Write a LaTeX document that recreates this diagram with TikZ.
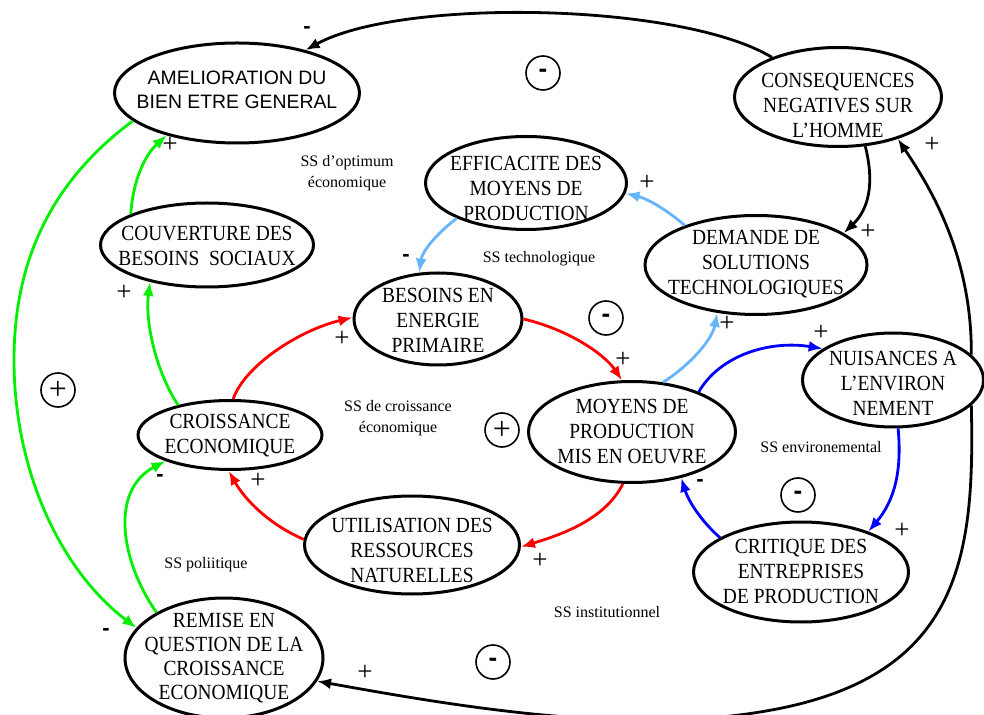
\documentclass[tikz,border=0pt]{standalone}
\usepackage{fontspec}
\setmainfont{Liberation Serif}
\newfontfamily\ellfont[FakeStretch=0.9]{Liberation Serif}
\newfontfamily\arialfont{Liberation Sans}
\usetikzlibrary{shapes.geometric,arrows.meta}
\definecolor{cgreen}{RGB}{0,240,0}
\definecolor{cred}{RGB}{255,0,0}
\definecolor{clblue}{RGB}{100,180,255}
\definecolor{cblue}{RGB}{0,0,255}
\begin{document}
\begin{tikzpicture}[x=0.5pt,y=-0.5pt,
 ell/.style={ellipse,draw,line width=1.5pt,fill=white,inner sep=0pt},
 etxt/.style={align=center,inner sep=0pt,font=\ellfont\fontsize{10.8}{12.5}\selectfont},
 ss/.style={align=center,inner sep=0pt,font=\fontsize{8}{10.5}\selectfont},
 pl/.style={inner sep=0pt,font=\fontsize{13.5}{13.5}\selectfont},
 mi/.style={inner sep=0pt,font=\arialfont\bfseries\fontsize{11}{11}\selectfont},
 sgn/.style={circle,draw,line width=0.8pt,minimum size=17pt,inner sep=0pt},
 conn/.style={line width=1.4pt,-{Latex[length=7pt,width=5.5pt]}},
]
\useasboundingbox[fill=white] (0,0) rectangle (984,715);

% ellipses
\node[ell,minimum width=122.5pt,minimum height=50pt] (amel) at (237,93) {};
\node[ell,minimum width=103.5pt,minimum height=49.5pt] (cons) at (838,97) {};
\node[ell,minimum width=100.5pt,minimum height=46.5pt] (eff) at (526,183) {};
\node[ell,minimum width=111pt,minimum height=49.5pt] (dem) at (756,265) {};
\node[ell,minimum width=106.5pt,minimum height=42pt] (couv) at (207,245) {};
\node[ell,minimum width=84pt,minimum height=46pt] (bes) at (438,319) {};
\node[ell,minimum width=92pt,minimum height=34.5pt] (crois) at (230,435) {};
\node[ell,minimum width=103.5pt,minimum height=50.5pt] (moy) at (632,432) {};
\node[ell,minimum width=90.5pt,minimum height=47pt] (nuis) at (893,380) {};
\node[ell,minimum width=107.5pt,minimum height=49pt] (util) at (412,545) {};
\node[ell,minimum width=107.5pt,minimum height=50pt] (crit) at (801,572) {};
\node[ell,minimum width=99pt,minimum height=60pt] (rem) at (224,658) {};

% texts
\node[align=center,inner sep=0pt,font=\arialfont\fontsize{9.7}{11.7}\selectfont] (amelT) at (237,90) {AMELIORATION DU\\BIEN ETRE GENERAL};
\node[etxt] (consT) at (838,105) {CONSEQUENCES\\NEGATIVES SUR\\L’HOMME};
\node[etxt] (effT) at (526,188) {EFFICACITE DES\\MOYENS DE\\PRODUCTION};
\node[etxt] (demT) at (756,264) {DEMANDE DE\\SOLUTIONS\\TECHNOLOGIQUES};
\node[etxt] (couvT) at (207,246) {COUVERTURE DES\\BESOINS\ \ SOCIAUX};
\node[etxt] (besT) at (438,320) {BESOINS EN\\ENERGIE\\PRIMAIRE};
\node[etxt] (croisT) at (230,436) {CROISSANCE\\ECONOMIQUE};
\node[etxt] (moyT) at (632,432) {MOYENS DE\\PRODUCTION\\MIS EN OEUVRE};
\node[etxt] (nuisT) at (893,383) {NUISANCES A\\L’ENVIRON\\NEMENT};
\node[etxt] (utilT) at (412,550) {UTILISATION DES\\RESSOURCES\\NATURELLES};
\node[etxt] (critT) at (801,571) {CRITIQUE DES\\ENTREPRISES\\DE PRODUCTION};
\node[etxt,font=\ellfont\fontsize{10.8}{12}\selectfont] (remT) at (224,658) {REMISE EN\\QUESTION DE LA\\CROISSANCE\\ECONOMIQUE};

% subsystem labels
\node[ss] (ss1) at (347,173) {SS d{\char"0027}optimum\\économique};
\node[ss] (ss2) at (539,259) {SS technologique};
\node[ss] (ss3) at (398,418) {SS de croissance\\économique};
\node[ss] (ss4) at (206,565) {SS poliitique};
\node[ss] (ss5) at (821,447) {SS environemental};
\node[ss] (ss6) at (607,612) {SS institutionnel};

% loop signs
\node[sgn,font=\arialfont\bfseries\fontsize{13}{13}\selectfont] (c1) at (543,73) {-};
\node[sgn,font=\fontsize{16}{16}\selectfont] (c2) at (58,390) {+};
\node[sgn,font=\arialfont\bfseries\fontsize{13}{13}\selectfont] (c3) at (606,318) {-};
\node[sgn,font=\fontsize{16}{16}\selectfont] (c4) at (502,430) {+};
\node[sgn,font=\arialfont\bfseries\fontsize{13}{13}\selectfont] (c5) at (798,495) {-};
\node[sgn,font=\arialfont\bfseries\fontsize{13}{13}\selectfont] (c6) at (493,662) {-};

% black connectors
\draw[conn] (cons.149) .. controls (680,2) and (400,-2) .. (amel.32);
\draw[conn] (cons.-61) .. controls (875,185) and (868,210) .. (dem.20);
\draw[conn] (nuis.18) .. controls (972,250) and (925,180) .. (cons.-35);
\draw[conn] (nuis.-18) .. controls (975,560) and (960,680) .. (760,712)
  .. controls (620,735) and (450,705) .. (rem.-14);

% green connectors
\draw[conn,cgreen] (amel.195) .. controls (60,175) and (14,250) .. (14,360)
  .. controls (14,470) and (60,570) .. (rem.161);
\draw[conn,cgreen] (couv.158) .. controls (133,180) and (145,155) .. (amel.211);
\draw[conn,cgreen] (crois.150) .. controls (155,370) and (145,320) .. (couv.213);
\draw[conn,cgreen] (rem.146) .. controls (120,560) and (110,490) .. (crois.202);

% red connectors
\draw[conn,cred] (crois.85) .. controls (245,365) and (300,330) .. (bes.179);
\draw[conn,cred] (bes.0) .. controls (570,330) and (605,355) .. (moy.101);
\draw[conn,cred] (moy.260) .. controls (605,520) and (560,535) .. (util.-1);
\draw[conn,cred] (util.177) .. controls (270,525) and (245,500) .. (crois.268);

% light blue connectors
\draw[conn,clblue] (dem.151) .. controls (665,208) and (645,198) .. (eff.-6);
\draw[conn,clblue] (eff.207) .. controls (435,235) and (422,252) .. (bes.112);
\draw[conn,clblue] (moy.58) .. controls (690,365) and (712,340) .. (dem.231);

% blue connectors
\draw[conn,cblue] (moy.31) .. controls (720,355) and (770,340) .. (nuis.156);
\draw[conn,cblue] (nuis.-84) .. controls (902,470) and (895,500) .. (crit.31);
\draw[conn,cblue] (crit.157) .. controls (700,520) and (688,500) .. (moy.-43);

% polarity labels
\node[mi] (m1) at (307,30) {-};
\node[mi] (m2) at (406,258) {-};
\node[mi] (m3) at (160,478) {-};
\node[mi] (m4) at (106,632) {-};
\node[mi] (m5) at (700,483) {-};
\node[pl] (p1) at (170,145) {+};
\node[pl] (p2) at (124,293) {+};
\node[pl] (p3) at (342,339) {+};
\node[pl] (p4) at (623,360) {+};
\node[pl] (p5) at (540,561) {+};
\node[pl] (p6) at (258,481) {+};
\node[pl] (p7) at (647,183) {+};
\node[pl] (p8) at (727,324) {+};
\node[pl] (p9) at (821,333) {+};
\node[pl] (p10) at (902,531) {+};
\node[pl] (p11) at (868,232) {+};
\node[pl] (p12) at (932,145) {+};
\node[pl] (p13) at (365,673) {+};
\end{tikzpicture}
\end{document}
